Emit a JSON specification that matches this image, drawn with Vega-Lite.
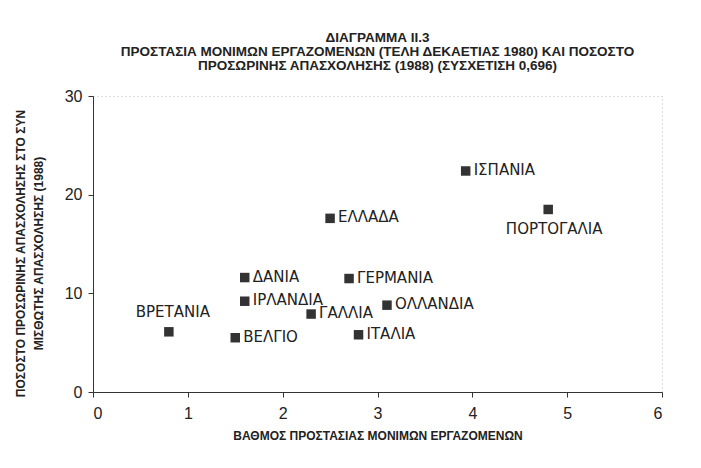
{
  "$schema": "https://vega.github.io/schema/vega-lite/v6.json",
  "autosize": "none",
  "width": 569,
  "height": 296,
  "padding": {"left": 93, "top": 96, "right": 39, "bottom": 76},
  "background": "white",
  "title": {
    "text": ["ΔΙΑΓΡΑΜΜΑ ΙΙ.3", "ΠΡΟΣΤΑΣΙΑ ΜΟΝΙΜΩΝ ΕΡΓΑΖΟΜΕΝΩΝ (ΤΕΛΗ ΔΕΚΑΕΤΙΑΣ 1980) ΚΑΙ ΠΟΣΟΣΤΟ", "ΠΡΟΣΩΡΙΝΗΣ ΑΠΑΣΧΟΛΗΣΗΣ (1988) (ΣΥΣΧΕΤΙΣΗ 0,696)"],
    "font": "Liberation Sans Narrow, Liberation Sans, sans-serif",
    "fontSize": 13.5,
    "fontWeight": "bold",
    "color": "#222",
    "lineHeight": 14,
    "offset": 16,
    "anchor": "middle"
  },
  "config": {
    "view": {"stroke": "#bbb", "strokeDash": [1, 3], "strokeWidth": 1},
    "font": "Liberation Sans, sans-serif",
    "axis": {
      "grid": false,
      "domainColor": "#333",
      "tickColor": "#333",
      "tickSize": 5,
      "labelFont": "Liberation Sans, sans-serif",
      "labelFontSize": 16,
      "labelColor": "#222",
      "titleFont": "Liberation Sans Narrow, Liberation Sans, sans-serif",
      "titleFontSize": 12,
      "titleFontWeight": "bold",
      "titleColor": "#222"
    }
  },
  "data": {
    "values": [
      {"country": "ΙΣΠΑΝΙΑ", "protection": 3.93, "temp": 22.4},
      {"country": "ΠΟΡΤΟΓΑΛΙΑ", "protection": 4.8, "temp": 18.5},
      {"country": "ΕΛΛΑΔΑ", "protection": 2.5, "temp": 17.6},
      {"country": "ΔΑΝΙΑ", "protection": 1.6, "temp": 11.6},
      {"country": "ΓΕΡΜΑΝΙΑ", "protection": 2.7, "temp": 11.5},
      {"country": "ΙΡΛΑΝΔΙΑ", "protection": 1.6, "temp": 9.2},
      {"country": "ΟΛΛΑΝΔΙΑ", "protection": 3.1, "temp": 8.8},
      {"country": "ΓΑΛΛΙΑ", "protection": 2.3, "temp": 7.9},
      {"country": "ΒΡΕΤΑΝΙΑ", "protection": 0.8, "temp": 6.1},
      {"country": "ΒΕΛΓΙΟ", "protection": 1.5, "temp": 5.5},
      {"country": "ΙΤΑΛΙΑ", "protection": 2.8, "temp": 5.8}
    ]
  },
  "encoding": {
    "x": {
      "field": "protection", "type": "quantitative",
      "scale": {"domain": [0, 6], "nice": false},
      "axis": {"values": [0, 1, 2, 3, 4, 5, 6], "labelPadding": 8, "title": "ΒΑΘΜΟΣ ΠΡΟΣΤΑΣΙΑΣ ΜΟΝΙΜΩΝ ΕΡΓΑΖΟΜΕΝΩΝ", "titlePadding": 9}
    },
    "y": {
      "field": "temp", "type": "quantitative",
      "scale": {"domain": [0, 30], "nice": false},
      "axis": {"values": [0, 10, 20, 30], "labelPadding": 6, "title": ["ΠΟΣΟΣΤΟ ΠΡΟΣΩΡΙΝΗΣ ΑΠΑΣΧΟΛΗΣΗΣ ΣΤΟ ΣΥΝ", "ΜΙΣΘΩΤΗΣ ΑΠΑΣΧΟΛΗΣΗΣ (1988)"], "titlePadding": 19, "titleLineHeight": 18, "titleY": 157}
    }
  },
  "layer": [
    {"mark": {"type": "square", "size": 90, "color": "#333", "opacity": 1, "filled": true}},
    {
      "transform": [{"filter": "datum.country !== 'ΠΟΡΤΟΓΑΛΙΑ' && datum.country !== 'ΒΡΕΤΑΝΙΑ'"}],
      "mark": {"type": "text", "font": "DejaVu Sans, sans-serif", "align": "left", "baseline": "middle", "dx": 8, "dy": -1, "fontSize": 15, "color": "#222"},
      "encoding": {"text": {"field": "country"}}
    },
    {
      "transform": [{"filter": "datum.country === 'ΠΟΡΤΟΓΑΛΙΑ'"}],
      "mark": {"type": "text", "font": "DejaVu Sans, sans-serif", "align": "center", "baseline": "middle", "dx": 6, "dy": 20, "fontSize": 15, "color": "#222"},
      "encoding": {"text": {"field": "country"}}
    },
    {
      "transform": [{"filter": "datum.country === 'ΒΡΕΤΑΝΙΑ'"}],
      "mark": {"type": "text", "font": "DejaVu Sans, sans-serif", "align": "center", "baseline": "middle", "dx": 4, "dy": -20, "fontSize": 15, "color": "#222"},
      "encoding": {"text": {"field": "country"}}
    }
  ]
}
